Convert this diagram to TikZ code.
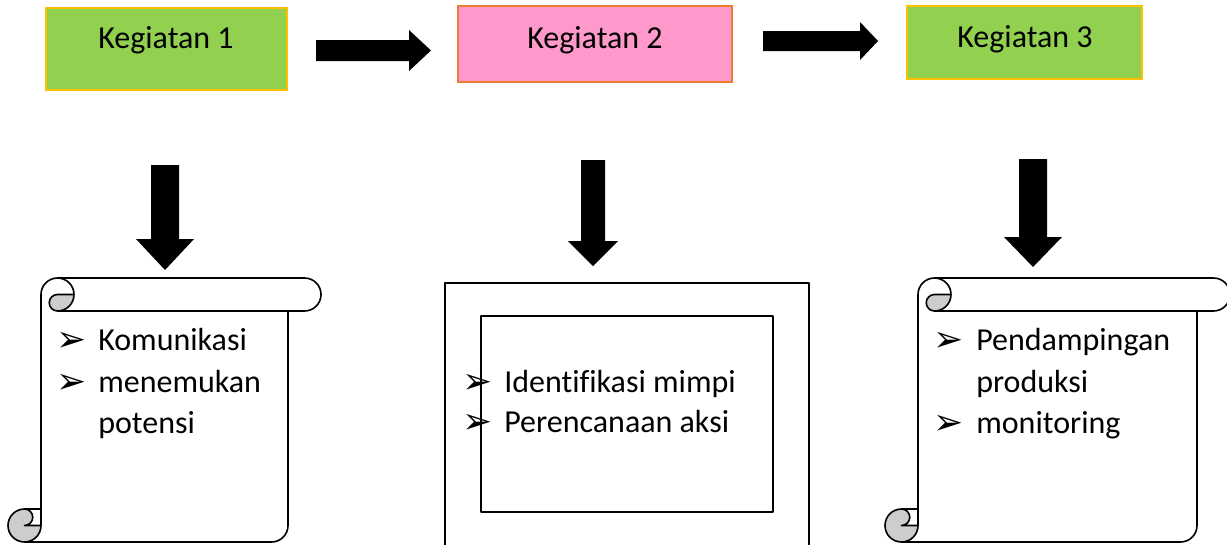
\documentclass[tikz,border=0pt]{standalone}
\usepackage{fontspec}
\setmainfont{Carlito}[Ligatures=NoCommon]
\newfontfamily\symfont{DejaVu Sans}
\definecolor{kgreen}{HTML}{92D050}
\definecolor{kgold}{HTML}{FFC000}
\definecolor{kpink}{HTML}{FF99CC}
\definecolor{korange}{HTML}{ED7D31}
\definecolor{curlgray}{HTML}{CDCDCD}
\tikzset{
  lbl/.style={font=\fontsize{24}{28}\selectfont, inner sep=0pt, anchor=base},
  item/.style={font=\fontsize{24}{28}\selectfont, inner sep=0pt, anchor=base west},
  bul/.style={font=\symfont\fontsize{27}{30}\selectfont, inner sep=0pt, anchor=base west},
  topbox/.style={line width=0.8pt},
  blockarrow/.style={fill=black},
  outline/.style={draw=black, line width=1.2pt, line join=round},
}
% l t r b c
\newcommand\drawscroll[5]{%
  \pgfmathsetmacro\scL{#1}\pgfmathsetmacro\scT{#2}\pgfmathsetmacro\scR{#3}%
  \pgfmathsetmacro\scB{#4}\pgfmathsetmacro\scC{#5}%
  \pgfmathsetmacro\scH{\scC/2}\pgfmathsetmacro\scQ{\scC/4}%
  \fill[white] (\scL+\scH,\scB) arc[start angle=90,delta angle=-90,radius=\scH]
     -- (\scL+\scC,\scT+\scH) arc[start angle=180,delta angle=90,radius=\scH]
     -- (\scR-\scH,\scT) arc[start angle=270,delta angle=180,radius=\scH]
     -- (\scR-\scC,\scT+\scC) -- (\scR-\scC,\scB-\scH)
     arc[start angle=0,delta angle=90,radius=\scH] -- cycle;
  \fill[curlgray] (\scL+2*\scC,\scT+\scH) arc[start angle=0,delta angle=90,radius=\scH]
     arc[start angle=90,delta angle=180,radius=\scQ] -- cycle;
  \fill[curlgray] (\scL+\scH,\scB-\scC) arc[start angle=270,delta angle=-180,radius=\scH]
     arc[start angle=90,delta angle=-90,radius=\scH] -- (\scL+\scH,\scB-\scH)
     arc[start angle=90,delta angle=-180,radius=\scQ] -- cycle;
  \draw[outline] (\scL+\scC,\scB-\scC) -- (\scL+\scC,\scT+\scH)
     arc[start angle=180,delta angle=90,radius=\scH]
     -- (\scR-\scH,\scT) arc[start angle=270,delta angle=180,radius=\scH]
     -- (\scR-\scC,\scT+\scC) -- (\scR-\scC,\scB-\scH)
     arc[start angle=0,delta angle=90,radius=\scH]
     -- (\scL+\scH,\scB) arc[start angle=90,delta angle=180,radius=\scH] -- cycle;
  \draw[outline] (\scL+1.5*\scC,\scT) arc[start angle=270,delta angle=180,radius=\scH]
     arc[start angle=90,delta angle=180,radius=\scQ] -- (\scL+2*\scC,\scT+\scH);
  \draw[outline] (\scR-\scC,\scT+\scC) -- (\scL+1.5*\scC,\scT+\scC);
  \draw[outline] (\scL+\scH,\scB-\scC) arc[start angle=270,delta angle=180,radius=\scQ]
     -- (\scL+\scC,\scB-\scH);
  \draw[outline] (\scL+\scH,\scB) arc[start angle=90,delta angle=-90,radius=\scH]
     -- (\scL+\scC,\scB-\scC);
}
\begin{document}
\begin{tikzpicture}[x=0.75pt,y=-0.75pt]
\useasboundingbox (0,0) rectangle (1227,544);
\begin{scope}
\clip (0,0) rectangle (1227,544);
% top boxes
\node[topbox, draw=kgold, fill=kgreen, minimum width=180.75pt, minimum height=61.5pt, inner sep=0pt] (k1) at (166.5,49) {};
\node[topbox, draw=korange, fill=kpink, minimum width=205.5pt, minimum height=57pt, inner sep=0pt] (k2) at (595,44) {};
\node[topbox, draw=kgold, fill=kgreen, minimum width=176.25pt, minimum height=54.75pt, inner sep=0pt] (k3) at (1024.5,42.5) {};
\node[lbl] (t1) at (166,48) {Kegiatan 1};
\node[lbl] (t2) at (595,48) {Kegiatan 2};
\node[lbl] (t3) at (1025,47) {Kegiatan 3};
% right arrows
\fill[blockarrow] (316,40) -- (409,40) -- (409,30) -- (431,50.5) -- (409,71) -- (409,61) -- (316,61) -- cycle;
\fill[blockarrow] (763,31) -- (860,31) -- (860,22) -- (878,41) -- (860,60) -- (860,51) -- (763,51) -- cycle;
% down arrows
\fill[blockarrow] (151,165) -- (179,165) -- (179,239) -- (194,239) -- (165,270) -- (136,239) -- (151,239) -- cycle;
\fill[blockarrow] (581,160) -- (605,160) -- (605,241) -- (618,241) -- (593,266) -- (568,241) -- (581,241) -- cycle;
\fill[blockarrow] (1019,159) -- (1047,159) -- (1047,237) -- (1062,237) -- (1033,267) -- (1004,237) -- (1019,237) -- cycle;
% scrolls
\drawscroll{8}{278}{321}{542}{33}
\drawscroll{885}{278}{1230}{542}{33}
% middle frame
\draw[outline] (445,560) -- (445,283) -- (809,283) -- (809,560);
\draw[outline] (481,316) rectangle (773,512);
\end{scope}
% scroll 1 text
\node[bul] (b11) at (56,351) {➢};
\node[item] (i11) at (98,350) {Komunikasi};
\node[bul] (b12) at (56,393) {➢};
\node[item] (i12) at (98,392) {menemukan};
\node[item] (i13) at (98,433) {potensi};
% middle text
\node[bul] (b21) at (462,393) {➢};
\node[item] (i21) at (504,392) {Identifikasi mimpi};
\node[bul] (b22) at (462,433) {➢};
\node[item] (i22) at (504,432) {Perencanaan aksi};
% scroll 3 text
\node[bul] (b31) at (933,351) {➢};
\node[item] (i31) at (976,350) {Pendampingan};
\node[item] (i32) at (976,392) {produksi};
\node[bul] (b33) at (933,434) {➢};
\node[item] (i33) at (976,433) {monitoring};
\end{tikzpicture}
\end{document}
